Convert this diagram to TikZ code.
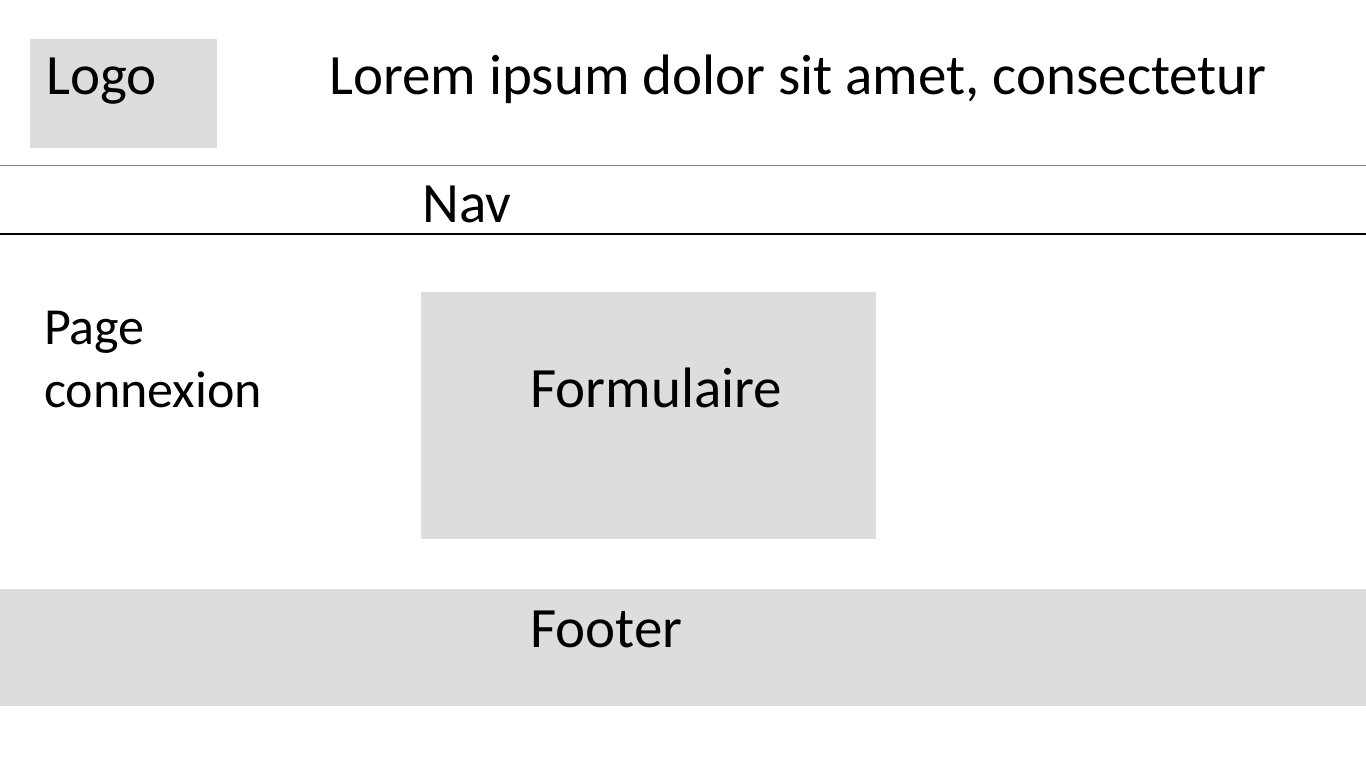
\documentclass[tikz,border=0pt]{standalone}
\usepackage{fontspec}
\setmainfont{Carlito}
\definecolor{boxgray}{HTML}{DDDDDD}
\definecolor{linegray}{HTML}{7F7F7F}
\begin{document}
\begin{tikzpicture}[x=1pt,y=-1pt,
  lbl/.style={inner sep=0pt,anchor=base west,font=\fontsize{57}{64}\selectfont},
  small/.style={inner sep=0pt,anchor=base west,align=left,font=\fontsize{52}{63}\selectfont},
  area/.style={fill=boxgray,draw=none}]
\useasboundingbox (0,0) rectangle (1366,768);
\fill[white] (0,0) rectangle (1366,768);
\fill[area] (30,39) rectangle (217,148);
\fill[area] (421,292) rectangle (876,539);
\fill[area] (0,589) rectangle (1366,706);
\coordinate (l1a) at (0,165.5);
\coordinate (l1b) at (1366,165.5);
\coordinate (l2a) at (0,234);
\coordinate (l2b) at (1366,234);
\draw[linegray,line width=1.6pt] (l1a) -- (l1b);
\draw[black,line width=1.2pt] (l2a) -- (l2b);
\node[lbl] (logo) at (46,95) {Logo};
\node[lbl] (title) at (329,95) {Lorem ipsum dolor sit amet, consectetur};
\node[lbl] (nav) at (422,222) {Nav};
\node[small] (page) at (44,407) {Page\\connexion};
\node[lbl] (form) at (530,407) {Formulaire};
\node[lbl] (footer) at (530,647) {Footer};
\end{tikzpicture}
\end{document}
